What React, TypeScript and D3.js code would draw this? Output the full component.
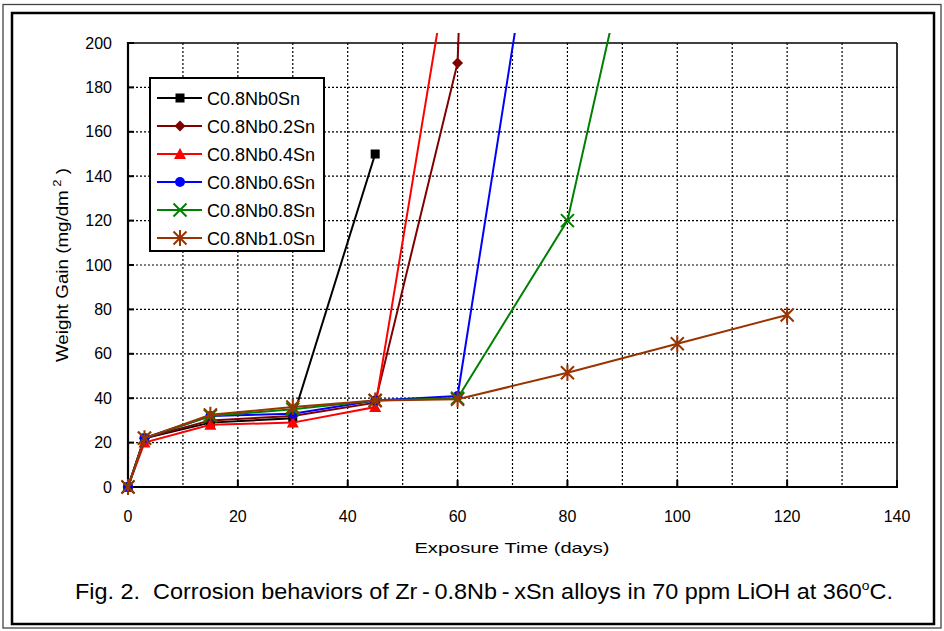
import React from "react";
import * as d3 from "d3";

const seriesNames = ["C0.8Nb0Sn", "C0.8Nb0.2Sn", "C0.8Nb0.4Sn", "C0.8Nb0.6Sn", "C0.8Nb0.8Sn", "C0.8Nb1.0Sn"];
const seriesColors = ["#000000", "#800000", "#ff0000", "#0000ff", "#008000", "#993300"];
const seriesMarkers = ["square", "diamond", "triangle", "circle", "x", "asterisk"];

const days0Sn = [0, 3, 15, 30, 45];
const gain0Sn = [0, 22, 29, 31, 150];
const days02Sn = [0, 3, 15, 30, 45, 60, 61];
const gain02Sn = [0, 22, 30, 32, 38, 191, 260];
const days04Sn = [0, 3, 15, 30, 45, 60];
const gain04Sn = [0, 20, 28, 29, 36, 260];
const days06Sn = [0, 3, 15, 30, 45, 60, 80];
const gain06Sn = [0, 22, 32, 33, 39, 41, 355];
const days08Sn = [0, 3, 15, 30, 45, 60, 80, 100];
const gain08Sn = [0, 22, 32, 35, 39, 40, 120, 340];
const days10Sn = [0, 3, 15, 30, 45, 60, 80, 100, 120];
const gain10Sn = [0, 22, 32.5, 36, 39, 39.5, 51.5, 64.5, 77.5];

const allDays = [days0Sn, days02Sn, days04Sn, days06Sn, days08Sn, days10Sn];
const allGains = [gain0Sn, gain02Sn, gain04Sn, gain06Sn, gain08Sn, gain10Sn];

const xTicks = [0, 20, 40, 60, 80, 100, 120, 140];
const yTicks = [0, 20, 40, 60, 80, 100, 120, 140, 160, 180, 200];
const xGrid = [10, 20, 30, 40, 50, 60, 70, 80, 90, 100, 110, 120, 130];

const FONT = "'Liberation Sans', Arial, sans-serif";

function Marker({ type, x, y, color }: { type: string; x: number; y: number; color: string }) {
  if (type === "square") return <rect x={x - 4.5} y={y - 4.5} width={9} height={9} fill={color} />;
  if (type === "diamond") return <path d={`M${x},${y - 5.5}L${x + 5.5},${y}L${x},${y + 5.5}L${x - 5.5},${y}Z`} fill={color} />;
  if (type === "triangle") return <path d={`M${x},${y - 6}L${x + 6},${y + 5}L${x - 6},${y + 5}Z`} fill={color} />;
  if (type === "circle") return <circle cx={x} cy={y} r={5} fill={color} />;
  if (type === "x")
    return (
      <path d={`M${x - 6.5},${y - 6.5}L${x + 6.5},${y + 6.5}M${x - 6.5},${y + 6.5}L${x + 6.5},${y - 6.5}`} stroke={color} strokeWidth={2} />
    );
  return (
    <path
      d={`M${x - 6.5},${y - 6.5}L${x + 6.5},${y + 6.5}M${x - 6.5},${y + 6.5}L${x + 6.5},${y - 6.5}M${x},${y - 8}L${x},${y + 8}`}
      stroke={color}
      strokeWidth={2}
    />
  );
}

export default function App() {
  const W = 944, H = 631;
  const left = 128, right = 897, top = 43, bottom = 487;
  const x = d3.scaleLinear().domain([0, 140]).range([left, right]);
  const y = d3.scaleLinear().domain([0, 200]).range([bottom, top]);
  const line = d3.line<[number, number]>().x((d) => x(d[0])).y((d) => y(d[1]));

  return (
    <svg width={W} height={H} style={{ position: "absolute", left: 0, top: 0, background: "#fff" }} fontFamily={FONT}>
      <defs>
        <clipPath id="clip">
          <rect x={left - 12} y={33} width={right - left + 24} height={bottom - 33 + 12} />
        </clipPath>
      </defs>
      <rect x={0} y={0} width={W} height={H} fill="#fff" />
      {/* frames */}
      <rect x={3} y={4.5} width={938} height={623.5} fill="none" stroke="#444" strokeWidth={1.3} />
      <rect x={12} y={13} width={922} height={611} fill="none" stroke="#000" strokeWidth={2.5} />

      {/* grid */}
      {xGrid.map((d) => (
        <line key={"gx" + d} x1={x(d)} x2={x(d)} y1={top} y2={bottom} stroke="#000" strokeWidth={1.2} strokeDasharray="2,2" />
      ))}
      {yTicks.filter((d) => d > 0 && d < 200).map((d) => (
        <line key={"gy" + d} x1={left} x2={right} y1={y(d)} y2={y(d)} stroke="#000" strokeWidth={1.2} strokeDasharray="2,2" />
      ))}

      {/* plot border */}
      <line x1={left} x2={right} y1={top} y2={top} stroke="#000" strokeWidth={1.6} />
      <line x1={right} x2={right} y1={top} y2={bottom} stroke="#000" strokeWidth={1.6} />
      <line x1={left} x2={left} y1={top - 1} y2={bottom + 1} stroke="#000" strokeWidth={2.2} />
      <line x1={left - 1} x2={right + 1} y1={bottom} y2={bottom} stroke="#000" strokeWidth={2.2} />

      {/* ticks */}
      {xTicks.map((d) => (
        <g key={"xt" + d}>
          <line x1={x(d)} x2={x(d)} y1={bottom} y2={bottom - 7} stroke="#000" strokeWidth={2} />
          <text x={x(d)} y={522} textAnchor="middle" fontSize={16} fill="#000">
            {d}
          </text>
        </g>
      ))}
      {yTicks.map((d) => (
        <g key={"yt" + d}>
          <line x1={left} x2={left + 6} y1={y(d)} y2={y(d)} stroke="#000" strokeWidth={2} />
          <text x={112} y={y(d) + 5.5} textAnchor="end" fontSize={16} fill="#000">
            {d}
          </text>
        </g>
      ))}

      {/* axis titles */}
      <text x={512} y={553} textAnchor="middle" fontSize={15} fill="#000" textLength={195} lengthAdjust="spacingAndGlyphs">
        Exposure Time (days)
      </text>
      <text
        transform="translate(68,265) rotate(-90)"
        textAnchor="middle"
        fontSize={16}
        fill="#000"
        textLength={194}
        lengthAdjust="spacingAndGlyphs"
      >
        Weight Gain (mg/dm
        <tspan dy={-7} fontSize={11}>{"\u00a02"}</tspan>
        <tspan dy={7}>{"\u00a0)"}</tspan>
      </text>

      {/* series */}
      <g clipPath="url(#clip)">
        {allDays.map((days, i) => {
          const pts: [number, number][] = days.map((d, j) => [d, allGains[i][j]]);
          return (
            <g key={"s" + i}>
              <path d={line(pts) || ""} fill="none" stroke={seriesColors[i]} strokeWidth={2} />
              {pts.map((p, j) => (
                <Marker key={j} type={seriesMarkers[i]} x={x(p[0])} y={y(p[1])} color={seriesColors[i]} />
              ))}
            </g>
          );
        })}
      </g>

      {/* legend */}
      <rect x={150} y={78} width={174} height={173} fill="#fff" stroke="#000" strokeWidth={2} />
      {seriesNames.map((n, i) => {
        const ly = 98 + i * 28;
        return (
          <g key={"l" + i}>
            <line x1={157} x2={202} y1={ly} y2={ly} stroke={seriesColors[i]} strokeWidth={2} />
            <Marker type={seriesMarkers[i]} x={180} y={ly} color={seriesColors[i]} />
            <text x={207} y={ly + 6.5} fontSize={18} fill="#000">
              {n}
            </text>
          </g>
        );
      })}

      {/* caption */}
      <text x={484} y={599} textAnchor="middle" fontSize={22} fill="#000" textLength={818} lengthAdjust="spacingAndGlyphs">
        {"Fig. 2.\u00a0 Corrosion behaviors of Zr\u2009-\u20090.8Nb\u2009-\u2009xSn alloys in 70 ppm LiOH at 360"}
        <tspan dy={-9} fontSize={13}>o</tspan>
        <tspan dy={9}>C.</tspan>
      </text>
    </svg>
  );
}
